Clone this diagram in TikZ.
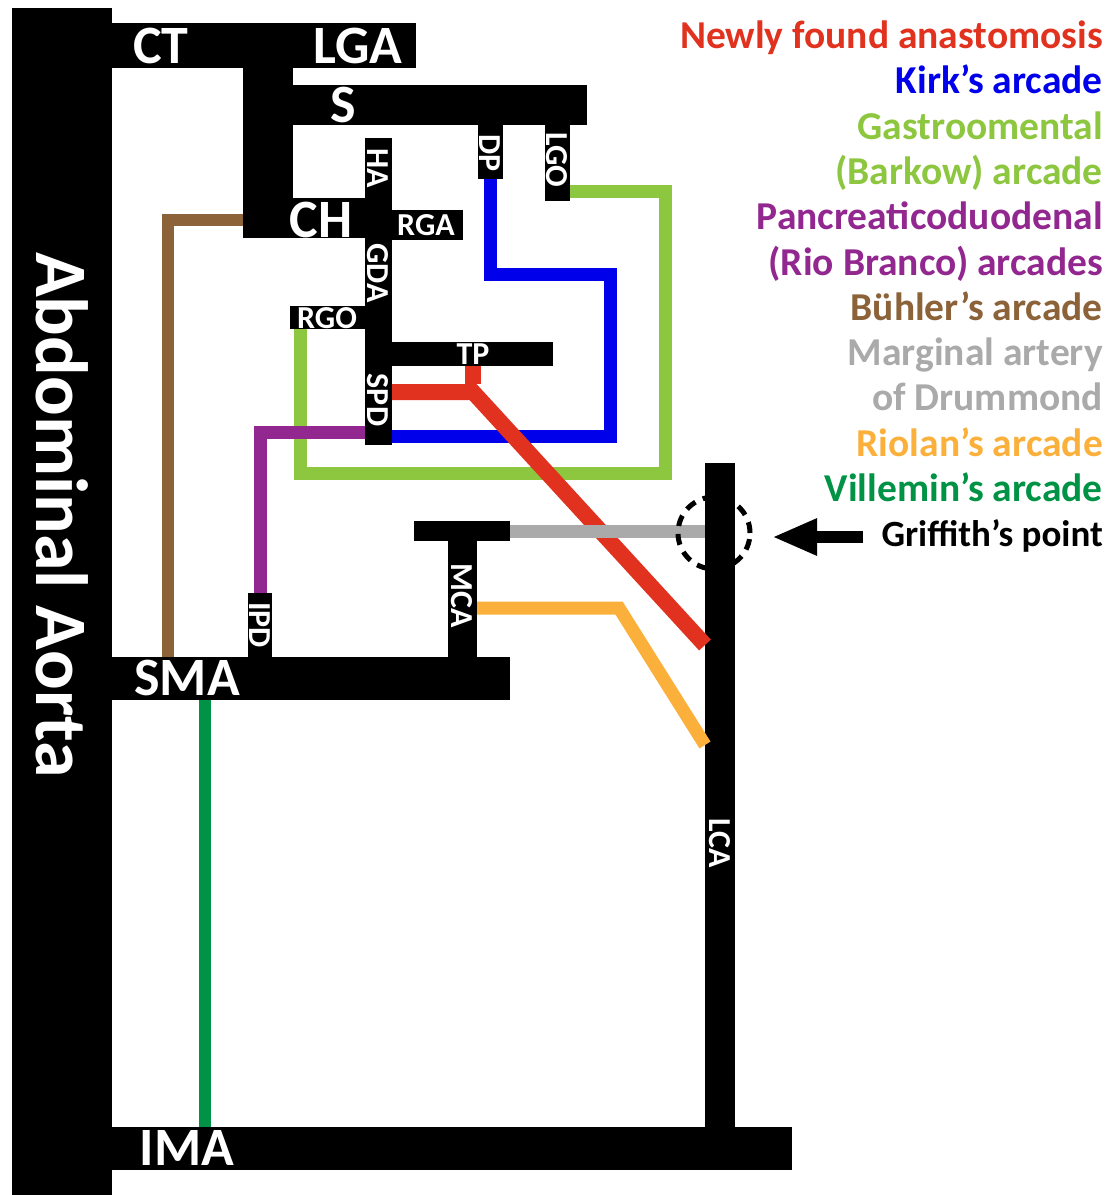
\documentclass[tikz,border=0pt]{standalone}
\usepackage{fontspec}
\setmainfont{Carlito}
\usetikzlibrary{arrows.meta}

\definecolor{newred}{RGB}{224,50,30}
\definecolor{kirkblue}{RGB}{0,0,235}
\definecolor{barkowgreen}{RGB}{141,198,63}
\definecolor{rbpurple}{RGB}{146,39,143}
\definecolor{buhlerbrown}{RGB}{140,98,57}
\definecolor{drumgrey}{RGB}{170,170,170}
\definecolor{riolanorange}{RGB}{251,176,59}
\definecolor{villgreen}{RGB}{0,146,69}

\tikzset{
  vessel/.style={fill=black},
  biglbl/.style={text=white, inner sep=0, font=\bfseries\fontsize{54}{54}\selectfont},
  smalllbl/.style={text=white, inner sep=0, font=\bfseries\fontsize{32}{32}\selectfont},
  arcade/.style={line width=13pt},
  legend/.style={anchor=base east, inner sep=0, font=\bfseries\fontsize{39.5}{39.5}\selectfont},
}

\begin{document}
\begin{tikzpicture}[x=1pt,y=-1pt]
\useasboundingbox (0,0) rectangle (1112,1195);

% vessels
\fill[vessel] (12,8) rectangle (112,1195);
\fill[vessel] (112,23) rectangle (416,68);
\fill[vessel] (243,23) rectangle (293,238);
\fill[vessel] (293,198) rectangle (365,238);
\fill[vessel] (293,85) rectangle (587,125);
\fill[vessel] (478,125) rectangle (503,179);
\fill[vessel] (545,125) rectangle (570,201);
\fill[vessel] (365,138) rectangle (392,445);
\fill[vessel] (392,210) rectangle (463,240);
\fill[vessel] (290,306) rectangle (365,329);
\fill[vessel] (392,342) rectangle (553,366);
\fill[vessel] (112,657) rectangle (510,700);
\fill[vessel] (248,593) rectangle (272,657);
\fill[vessel] (448,541) rectangle (477,657);
\fill[vessel] (414,521) rectangle (510,541);
\fill[vessel] (705,463) rectangle (735,1127);
\fill[vessel] (112,1127) rectangle (792,1170);

% end points of the arcades
\coordinate (ch-w) at (243,220);
\coordinate (sma-n) at (168,657);
\coordinate (sma-s) at (205,700);
\coordinate (ima-n) at (205,1127);
\coordinate (dp-s) at (490,179);
\coordinate (kirk-ne) at (610,274);
\coordinate (spd-e) at (392,436);
\coordinate (lgo-e) at (570,191);
\coordinate (barkow-se) at (665,473);
\coordinate (rgo-s) at (300,329);
\coordinate (tp-s) at (473,366);
\coordinate (red-y) at (473,392);
\coordinate (spd-e2) at (392,392);
\coordinate (lca-w1) at (705,645);
\coordinate (spd-w) at (365,432);
\coordinate (ipd-n) at (260,593);
\coordinate (mca-e) at (510,531);
\coordinate (lca-w2) at (705,531);
\coordinate (mca-e2) at (477,608);
\coordinate (riolan-bend) at (619,608);
\coordinate (lca-w3) at (705,745);
\coordinate (griffith) at (714,533);
\coordinate (arrow-tip) at (772,537);
\coordinate (arrow-tail) at (863,537);

% arcades
\draw[arcade, buhlerbrown, line width=12pt] (ch-w) -| (sma-n);
\draw[arcade, villgreen, line width=12pt] (sma-s) -- (ima-n);
\draw[arcade, barkowgreen] (lgo-e) -| (barkow-se) -| (rgo-s);
\draw[arcade, kirkblue] (dp-s) |- (kirk-ne) |- (spd-e);
\draw[arcade, rbpurple] (spd-w) -| (ipd-n);
\draw[arcade, newred, line width=16pt] (tp-s) -- ([yshift=8]red-y);
\draw[arcade, newred, line width=16pt] (spd-e2) -- (red-y) -- (lca-w1);
\draw[arcade, drumgrey] (mca-e) -- (lca-w2);
\draw[arcade, riolanorange] (mca-e2) -- (riolan-bend) -- (lca-w3);
\draw[line width=5pt, dash pattern=on 11pt off 8pt] (griffith) circle [radius=36pt];
\draw[-{Triangle[length=45pt,width=34pt]}, line width=12pt] (arrow-tail) -- (arrow-tip);

% labels
\node[text=white, inner sep=0, rotate=-90, font=\bfseries\fontsize{74}{74}\selectfont] (aorta) at (62,515) {Abdominal Aorta};
\node[biglbl] (ct) at (161,46) {CT};
\node[biglbl] (lga) at (358,46) {LGA};
\node[biglbl] (s) at (343,105) {S};
\node[biglbl] (ch) at (321,220) {CH};
\node[biglbl] (sma) at (187,678) {SMA};
\node[biglbl] (ima) at (187,1148) {IMA};
\node[smalllbl] (rga) at (426,225) {RGA};
\node[smalllbl] (rgo) at (327,318) {RGO};
\node[smalllbl] (tp) at (473,354) {TP};
\node[smalllbl, rotate=-90] (ha) at (378,168) {HA};
\node[smalllbl, rotate=-90] (gda) at (378,273) {GDA};
\node[smalllbl, rotate=-90] (spd) at (378,400) {SPD};
\node[smalllbl, rotate=-90] (dp) at (490,153) {DP};
\node[smalllbl, rotate=-90] (lgo) at (557,160) {LGO};
\node[smalllbl, rotate=-90] (ipd) at (260,625) {IPD};
\node[smalllbl, rotate=-90] (mca) at (462,596) {MCA};
\node[smalllbl, rotate=-90] (lca) at (720,843) {LCA};

% legend
\node[legend, text=newred] (leg1) at (1103,48) {Newly found anastomosis};
\node[legend, text=kirkblue] (leg2) at (1103,93) {Kirk’s arcade};
\node[legend, text=barkowgreen] (leg3) at (1103,139) {Gastroomental};
\node[legend, text=barkowgreen] (leg4) at (1103,184) {(Barkow) arcade};
\node[legend, text=rbpurple] (leg5) at (1103,229) {Pancreaticoduodenal};
\node[legend, text=rbpurple] (leg6) at (1103,275) {(Rio Branco) arcades};
\node[legend, text=buhlerbrown] (leg7) at (1103,320) {Bühler’s arcade};
\node[legend, text=drumgrey] (leg8) at (1103,365) {Marginal artery};
\node[legend, text=drumgrey] (leg9) at (1103,410) {of Drummond};
\node[legend, text=riolanorange] (leg10) at (1103,456) {Riolan’s arcade};
\node[legend, text=villgreen] (leg11) at (1103,501) {Villemin’s arcade};
\node[legend, font=\bfseries\fontsize{37}{37}\selectfont] (leg12) at (1103,546) {Griffith’s point};
\end{tikzpicture}
\end{document}
